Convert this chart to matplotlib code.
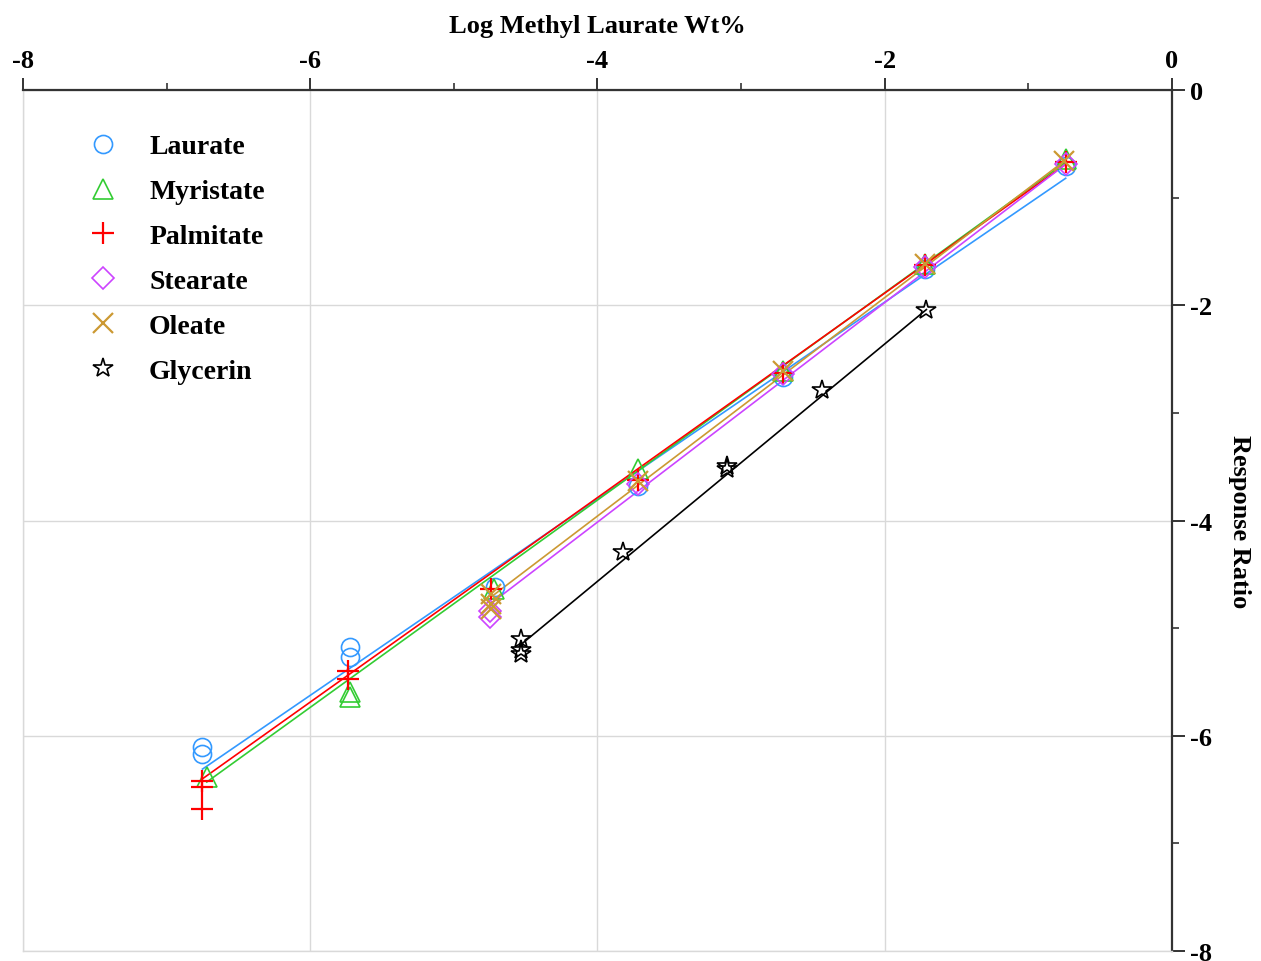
import numpy as np
import matplotlib
matplotlib.use("Agg")
import matplotlib.pyplot as plt

plt.rcParams['font.family'] = ['Liberation Serif', 'DejaVu Serif']
plt.rcParams['font.weight'] = 'bold'

names = ["Laurate", "Myristate", "Palmitate", "Stearate", "Oleate", "Glycerin"]
colors = ["#3399ff", "#33cc33", "#ff0000", "#cc44ff", "#cc9933", "#000000"]
markers = ["o", "^", "+", "D", "x", "*"]

major_ticks = [-8, -6, -4, -2, 0]
minor_ticks = [-7, -5, -3, -1]
tick_labels = ["-8", "-6", "-4", "-2", "0"]

# measured points (log wt%, response ratio)
laurate_x = [-6.75, -6.75, -5.72, -5.72, -4.71, -3.72, -2.71, -1.72, -0.74]
laurate_y = [-6.10, -6.17, -5.18, -5.27, -4.62, -3.68, -2.67, -1.66, -0.71]
myristate_x = [-6.72, -5.72, -5.72, -4.72, -3.72, -2.71, -1.72, -0.74]
myristate_y = [-6.38, -5.59, -5.64, -4.64, -3.52, -2.61, -1.62, -0.64]
palmitate_x = [-6.75, -6.75, -6.75, -5.74, -5.74, -4.74, -3.72, -2.71, -1.72, -0.74]
palmitate_y = [-6.42, -6.48, -6.68, -5.40, -5.47, -4.64, -3.62, -2.63, -1.63, -0.67]
stearate_x = [-4.75, -4.75, -3.72, -2.71, -1.72, -0.74]
stearate_y = [-4.84, -4.90, -3.66, -2.64, -1.64, -0.69]
oleate_x = [-4.74, -4.74, -4.74, -3.72, -2.71, -1.72, -0.75]
oleate_y = [-4.68, -4.78, -4.82, -3.63, -2.61, -1.62, -0.66]
glycerin_x = [-4.53, -4.53, -4.53, -3.82, -3.10, -3.10, -2.44, -1.71]
glycerin_y = [-5.10, -5.20, -5.24, -4.29, -3.49, -3.52, -2.79, -2.04]

# fitted lines (start/end)
fit_x = [[-6.75, -0.74], [-6.72, -0.74], [-6.75, -0.74],
         [-4.75, -0.74], [-4.74, -0.75], [-4.53, -1.71]]
fit_y = [[-6.31, -0.82], [-6.43, -0.67], [-6.40, -0.69],
         [-4.78, -0.69], [-4.71, -0.66], [-5.15, -2.04]]

xs = [laurate_x, myristate_x, palmitate_x, stearate_x, oleate_x, glycerin_x]
ys = [laurate_y, myristate_y, palmitate_y, stearate_y, oleate_y, glycerin_y]

fig = plt.figure(figsize=(12.61, 9.62), dpi=100)
ax = fig.add_axes([0.0182, 0.0104, 0.9112, 0.895])

for i in range(len(names)):
    ax.plot(fit_x[i], fit_y[i], color=colors[i], lw=1.2, zorder=2)

sizes = [13, 14, 16, 11, 14, 15]
for i in range(len(names)):
    if markers[i] in ["+", "x"]:
        ax.plot(xs[i], ys[i], ls="none", marker=markers[i], ms=sizes[i],
                color=colors[i], mew=1.6, label=names[i], zorder=3)
    else:
        ax.plot(xs[i], ys[i], ls="none", marker=markers[i], ms=sizes[i],
                mfc="none", mec=colors[i], mew=1.2, label=names[i], zorder=3)

ax.set_xlim(-8, 0)
ax.set_ylim(-8, 0)
ax.xaxis.tick_top()
ax.xaxis.set_label_position("top")
ax.yaxis.tick_right()
ax.yaxis.set_label_position("right")
ax.set_xticks(major_ticks)
ax.set_xticks(minor_ticks, minor=True)
ax.set_yticks(major_ticks)
ax.set_yticks(minor_ticks, minor=True)
ax.set_xticklabels(tick_labels, fontweight="bold")
ax.set_yticklabels(tick_labels, fontweight="bold")
ax.tick_params(which="major", direction="out", length=9, width=1.4,
               color="#333333", labelsize=19, pad=4)
ax.tick_params(which="minor", direction="out", length=5, width=1.2,
               color="#333333")

ax.grid(True, which="major", color="#d9d9d9", lw=1.0, zorder=0)
for s in ["top", "right"]:
    ax.spines[s].set_color("#333333")
    ax.spines[s].set_linewidth(1.6)
for s in ["left", "bottom"]:
    ax.spines[s].set_color("#d9d9d9")
    ax.spines[s].set_linewidth(1.0)

ax.set_xlabel("Log Methyl Laurate Wt%", fontsize=19, fontweight="bold",
              labelpad=12)
ax.set_ylabel("Response Ratio", fontsize=19, fontweight="bold",
              rotation=270, labelpad=28)

leg = ax.legend(loc="upper left", bbox_to_anchor=(0.03, 0.978), frameon=False,
                fontsize=20, handletextpad=0.9, labelspacing=0.70,
                handlelength=1.5)
for t in leg.get_texts():
    t.set_fontweight("bold")

fig.savefig("out.png", dpi=100)
